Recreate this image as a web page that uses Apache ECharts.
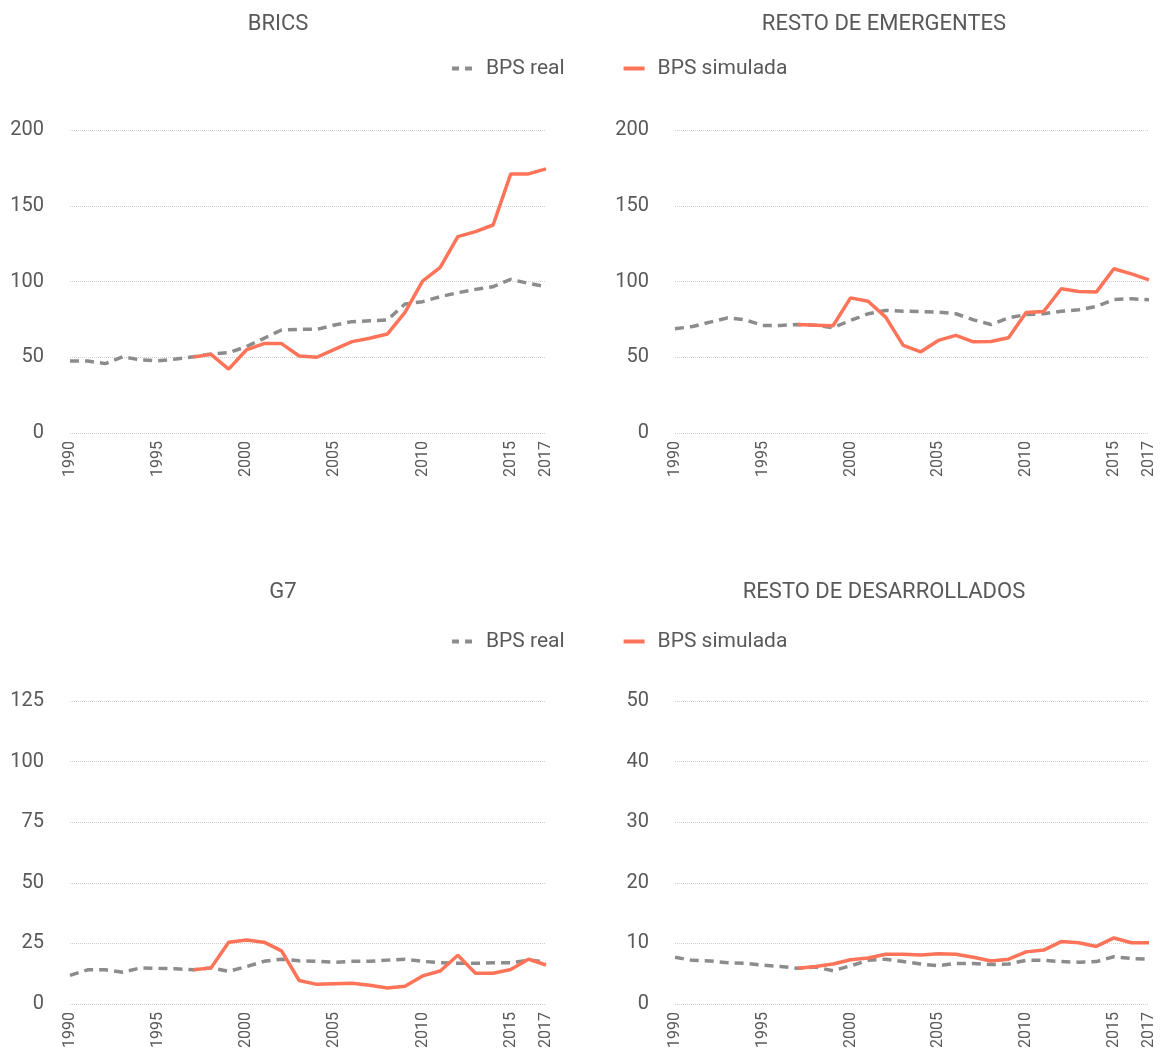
<!DOCTYPE html>
<html>
<head>
<meta charset="utf-8">
<script src="https://cdn.jsdelivr.net/npm/echarts@6/dist/echarts.min.js"></script>
<style>
  html, body { margin: 0; padding: 0; background: #fff; }
  #main { width: 1160px; height: 1052px; }
</style>
</head>
<body>
<div id="main"></div>
<script>
// años
var years = [];
for (var y = 1990; y <= 2017; y++) years.push(String(y));

// BRICS
var bricsReal = [47.5, 47.5, 45.8, 50.4, 48.2, 47.7, 48.8, 50.4, 52.1, 53, 57, 62.5, 68, 68.4, 68.4, 71.3, 73.5, 74.1, 74.6, 85.1, 86.7, 90, 92.6, 94.8, 96.6, 101.4, 98.8, 96.6];
var bricsSim = [null, null, null, null, null, null, null, 50.2, 51.9, 42.2, 54.8, 59, 59, 50.8, 50, 55.2, 60.3, 62.5, 65.3, 79.6, 100.3, 109.4, 129.6, 132.9, 137.3, 171, 171, 174.3];

// Resto de emergentes
var emerReal = [68.8, 70.3, 73.2, 76, 74.7, 71, 71, 71.6, 71.2, 69.5, 74.3, 78.7, 80.9, 80.4, 80.2, 79.8, 78.7, 74.7, 71.6, 76, 78.2, 78.7, 80.4, 81.3, 83.5, 88.1, 88.6, 87.9];
var emerSim = [null, null, null, null, null, null, null, 71.6, 71.2, 70.8, 89.2, 87, 76.5, 57.8, 53.6, 61.1, 64.4, 60.2, 60.4, 62.9, 79.6, 80.2, 95.2, 93.4, 93, 108.4, 105, 101.1];

// G7
var g7Real = [11.8, 14.1, 14.1, 13.1, 14.9, 14.7, 14.5, 14.1, 14.9, 13.5, 15.4, 17.6, 18.5, 17.8, 17.6, 17.2, 17.6, 17.6, 18.1, 18.5, 17.6, 17, 16.8, 16.8, 17, 17, 18.1, 17.4];
var g7Sim = [null, null, null, null, null, null, null, 14.1, 14.9, 25.5, 26.4, 25.5, 21.9, 9.7, 8.1, 8.4, 8.6, 7.7, 6.6, 7.3, 11.6, 13.6, 20.1, 12.7, 12.7, 14.2, 18.5, 16.1];

// Resto de desarrollados
var desReal = [7.7, 7.2, 7.1, 6.8, 6.7, 6.4, 6.2, 5.9, 6.1, 5.5, 6.3, 7.2, 7.4, 7.0, 6.6, 6.3, 6.7, 6.7, 6.5, 6.6, 7.2, 7.2, 7.0, 6.9, 7.0, 7.8, 7.5, 7.4];
var desSim = [null, null, null, null, null, null, null, 5.9, 6.2, 6.6, 7.3, 7.6, 8.2, 8.2, 8.1, 8.3, 8.2, 7.7, 7.1, 7.4, 8.6, 8.9, 10.3, 10.1, 9.5, 10.9, 10.1, 10.1];

var titles = ['BRICS', 'RESTO DE EMERGENTES', 'G7', 'RESTO DE DESARROLLADOS'];
var realData = [bricsReal, emerReal, g7Real, desReal];
var simData = [bricsSim, emerSim, g7Sim, desSim];
var yMax = [200, 200, 125, 50];
var yStep = [50, 50, 25, 10];

var textColor = '#595959';
var realColor = '#8c8c8c';
var simColor = '#ff7459';
var font = 'Roboto, "Noto Sans", sans-serif';

var myChart = echarts.init(document.getElementById('main'));

var grids = [
  { left: 70, right: 614, top: 130, bottom: 619 },
  { left: 675, right: 11, top: 130, bottom: 619 },
  { left: 70, right: 614, top: 701, bottom: 48 },
  { left: 675, right: 11, top: 701, bottom: 48 }
];
var titleX = [273, 879, 278, 879];
var titleY = [8, 8, 576, 576];
var legendY = [53, 626];

// icono de leyenda sin el punto central
function legendData() {
  return [
    { name: 'BPS real', itemStyle: { opacity: 0 }, lineStyle: { color: realColor, width: 4, type: [7, 6] } },
    { name: 'BPS simulada', itemStyle: { opacity: 0 }, lineStyle: { color: simColor, width: 4 } }
  ];
}

var option = {
  animation: false,
  textStyle: { fontFamily: font },
  title: titles.map(function (t, i) {
    return {
      text: t,
      left: titleX[i],
      top: titleY[i],
      textAlign: 'center',
      textStyle: { color: textColor, fontSize: 22, fontWeight: 'normal', fontFamily: font }
    };
  }),
  legend: legendY.map(function (ly) {
    return {
      data: legendData(),
      left: 445,
      top: ly,
      itemWidth: 21,
      itemHeight: 4,
      itemGap: 57,
      textStyle: { color: textColor, fontSize: 21, fontFamily: font, padding: [0, 0, 0, 8] }
    };
  }),
  grid: grids,
  xAxis: grids.map(function (g, i) {
    return {
      type: 'category',
      gridIndex: i,
      data: years,
      boundaryGap: false,
      axisLine: { show: false },
      axisTick: { show: false },
      axisLabel: {
        rotate: 90,
        color: textColor,
        fontSize: 16,
        margin: 8,
        fontFamily: font,
        interval: function (idx) { return idx % 5 === 0 || idx === 27; }
      }
    };
  }),
  yAxis: grids.map(function (g, i) {
    return {
      type: 'value',
      gridIndex: i,
      min: 0,
      max: yMax[i],
      interval: yStep[i],
      axisLine: { show: false },
      axisTick: { show: false },
      axisLabel: { color: textColor, fontSize: 20, margin: 26, fontFamily: font, padding: [4, 0, 0, 0] },
      splitLine: { lineStyle: { color: '#d0d0d0', type: 'dotted', width: 1 } }
    };
  }),
  series: []
};

for (var i = 0; i < 4; i++) {
  option.series.push({
    name: 'BPS real',
    type: 'line',
    xAxisIndex: i,
    yAxisIndex: i,
    data: realData[i],
    symbol: 'none',
    itemStyle: { color: realColor },
    lineStyle: { color: realColor, width: 3.5, type: [9, 6] }
  });
  option.series.push({
    name: 'BPS simulada',
    type: 'line',
    xAxisIndex: i,
    yAxisIndex: i,
    data: simData[i],
    symbol: 'none',
    itemStyle: { color: simColor },
    lineStyle: { color: simColor, width: 3.5 }
  });
}

myChart.setOption(option);
window.onresize = function () {
  myChart.resize();
};
</script>
</body>
</html>
